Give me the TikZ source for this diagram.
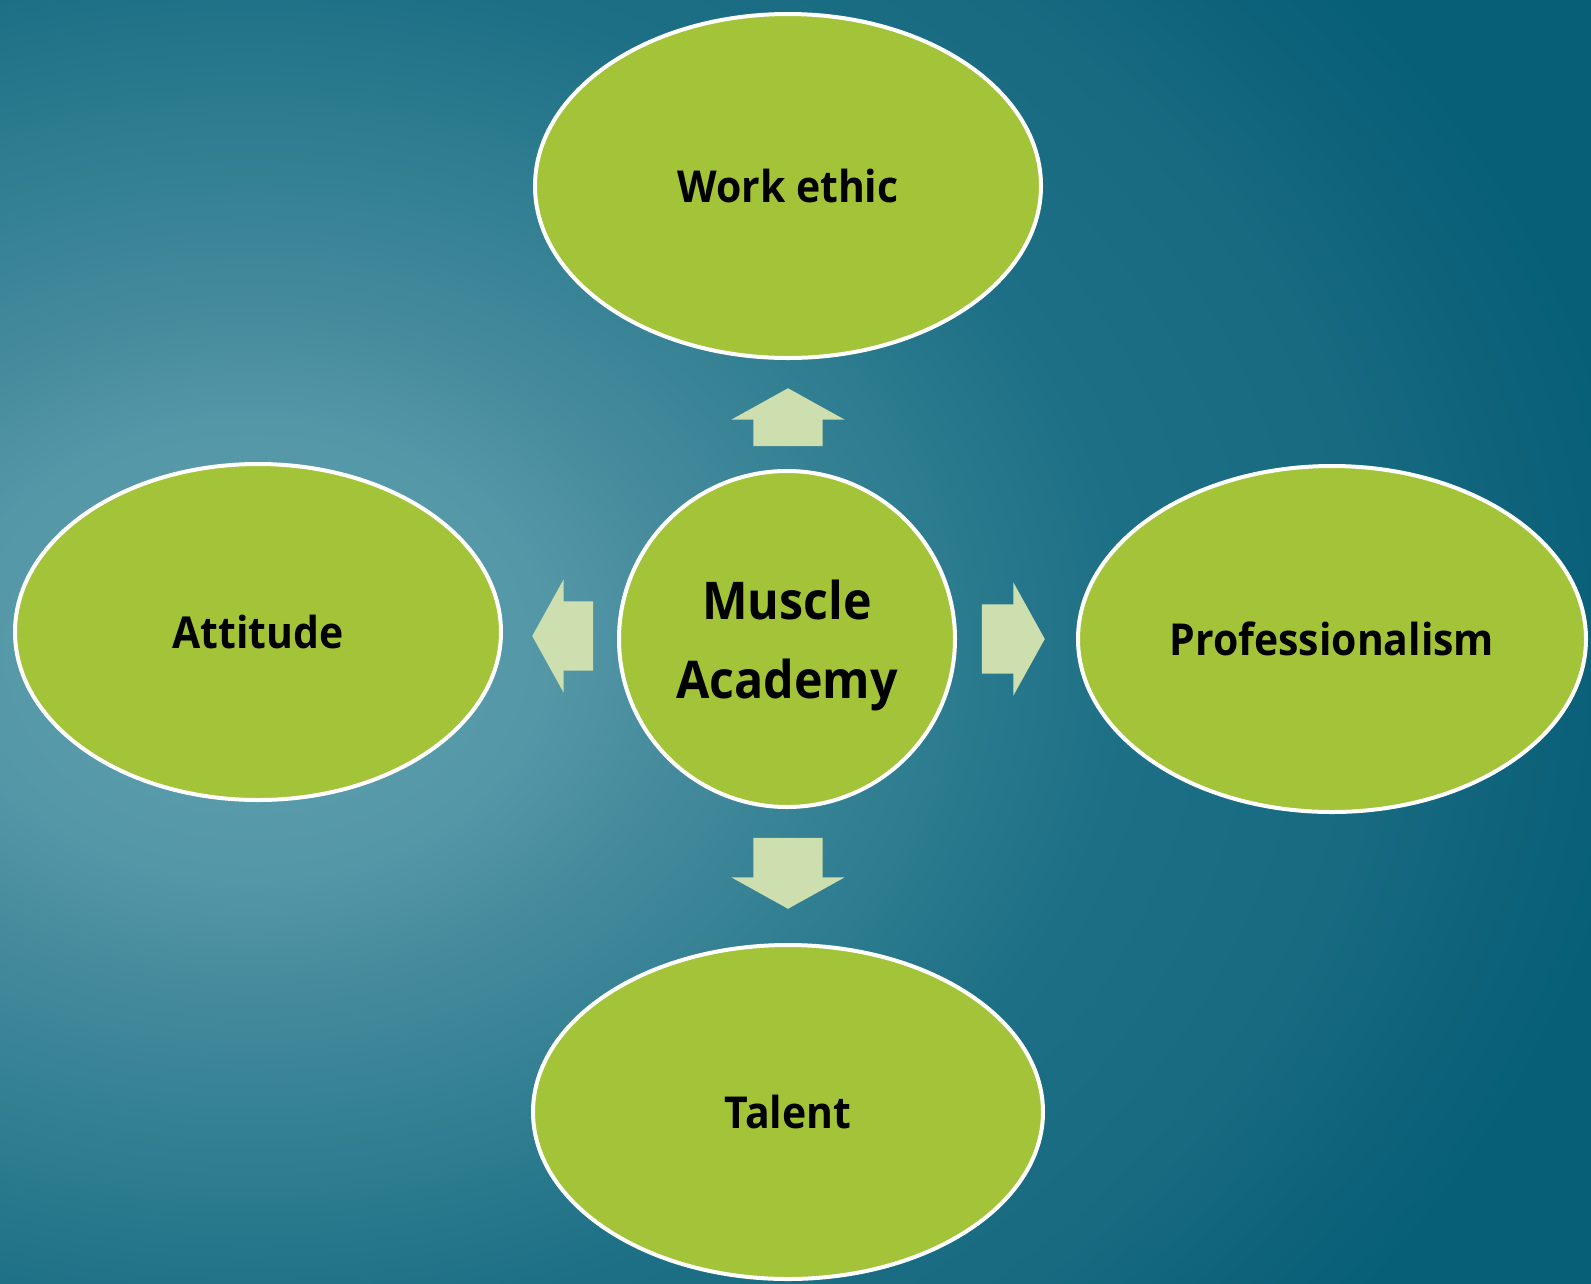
\documentclass[tikz,border=0pt]{standalone}
\usepackage{fontspec}
\setmainfont{Open Sans}[FakeStretch=0.93]
\usetikzlibrary{shapes.geometric,shapes.arrows}

\definecolor{leafgreen}{HTML}{A3C439}
\definecolor{arrowpale}{HTML}{CDDEAF}
\definecolor{bglight}{HTML}{5EA0B0}
\definecolor{bgA}{HTML}{5497A7}
\definecolor{bgB}{HTML}{448A9C}
\definecolor{bgC}{HTML}{2A7A8E}
\definecolor{bgD}{HTML}{1D6F85}
\definecolor{bgE}{HTML}{176A80}
\definecolor{bgF}{HTML}{0B6179}
\definecolor{bgG}{HTML}{065E77}

% 25bp is the rim of the shaded path
\pgfdeclareradialshading{bgglow}{\pgfpoint{0bp}{0bp}}{%
  color(0bp)=(bglight); color(3.8bp)=(bgA); color(5.8bp)=(bgB);
  color(9.3bp)=(bgC); color(11.3bp)=(bgD); color(14.5bp)=(bgE);
  color(17bp)=(bgF); color(18bp)=(bgG); color(50bp)=(bgG)}

\begin{document}
\begin{tikzpicture}
  [x=1pt,y=-1pt,
   bubble/.style={ellipse,draw=white,line width=4pt,fill=leafgreen,inner sep=0pt,
     font=\fontsize{44}{52}\selectfont\bfseries},
   hub/.style={circle,draw=white,line width=4pt,fill=leafgreen,inner sep=0pt,
     minimum size=336pt,align=center,text depth=0pt,
     font=\fontsize{52}{79}\selectfont\bfseries},
   pointer/.style={single arrow,fill=arrowpale,inner xsep=0pt,inner ysep=34.5pt,
     minimum width=113pt,single arrow head extend=22pt,single arrow tip angle=122}]
  \useasboundingbox (0,0) rectangle (1591,1283);
  \begin{scope}
    \clip (0,0) rectangle (1591,1283);
    \shade[shading=bgglow] (250,650) ellipse [x radius=1950pt,y radius=1500pt];
  \end{scope}

  \node[hub] (hub) at (787,639) {Muscle\\Academy};
  \node[bubble,minimum width=506pt,minimum height=344pt] (work) at (788,186) {Work ethic};
  \node[bubble,minimum width=486pt,minimum height=336pt] (attitude) at (258,632) {Attitude};
  \node[bubble,minimum width=508pt,minimum height=346pt] (prof) at (1332,639) {Professionalism};
  \node[bubble,minimum width=510pt,minimum height=334pt] (talent) at (788,1112) {Talent};

  \node[pointer,rotate=90,minimum height=58pt,anchor=tip] (toWork) at (788,388) {};
  \node[pointer,rotate=-90,minimum height=71pt,anchor=tip] (toTalent) at (788,909) {};
  \node[pointer,rotate=180,minimum height=61pt,anchor=tip] (toAttitude) at (532,636) {};
  \node[pointer,minimum height=63pt,anchor=tip] (toProf) at (1045,639) {};

\end{tikzpicture}
\end{document}
